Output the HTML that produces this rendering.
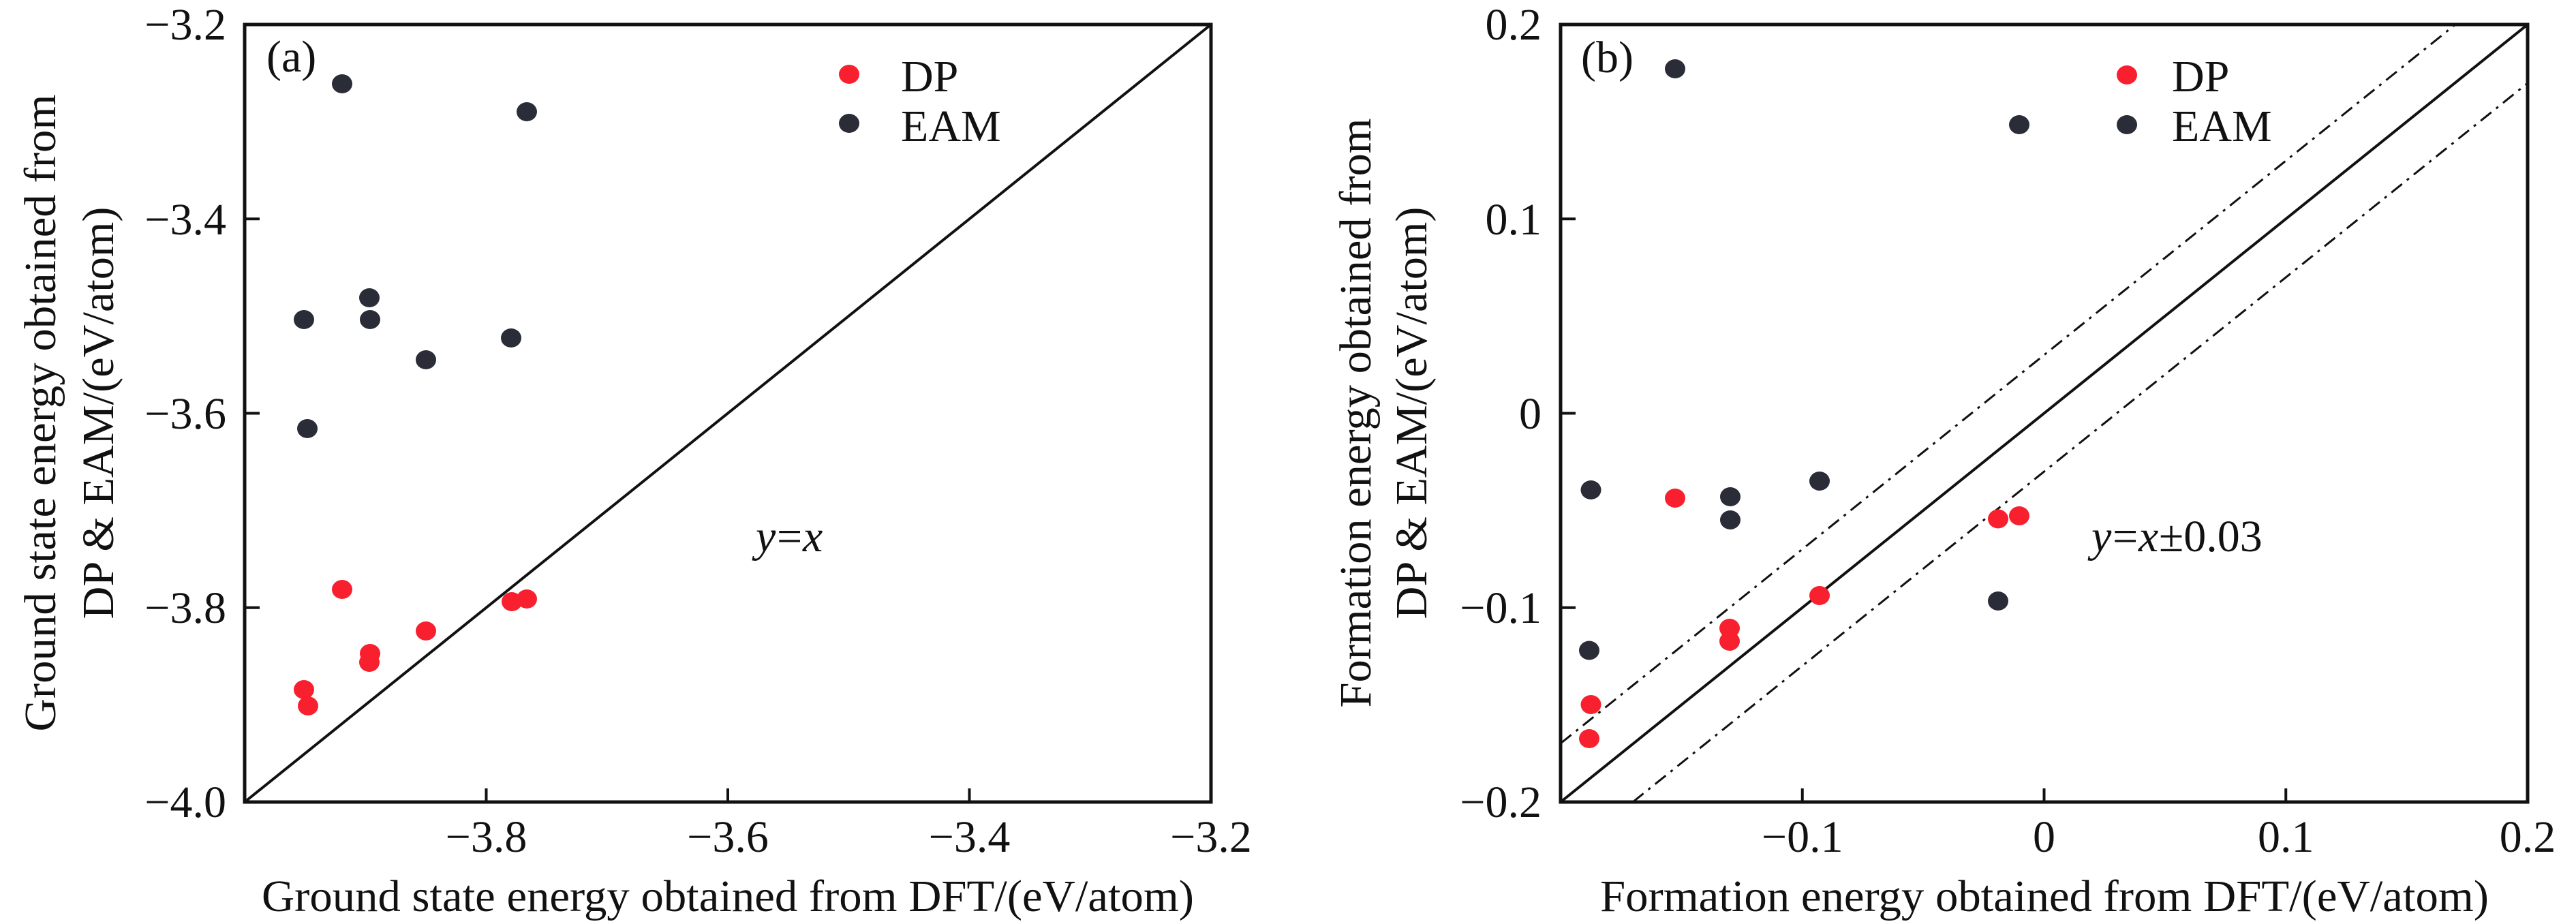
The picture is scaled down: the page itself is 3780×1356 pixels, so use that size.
<!DOCTYPE html>
<html><head><meta charset="utf-8"><style>
html,body{margin:0;padding:0;background:#fff;}
svg{display:block;}
text{font-family:"Liberation Serif",serif;fill:#111;}
ellipse{rx:15px;ry:14px;}
</style></head><body>
<svg width="3780" height="1356" viewBox="0 0 3780 1356" xmlns="http://www.w3.org/2000/svg">
<g font-size="66" font-family="Liberation Serif, serif">
<!-- Panel a -->
<line x1="359" y1="1177" x2="1777" y2="36" stroke="#111" stroke-width="4"/>
<rect x="359" y="36" width="1418" height="1141" fill="none" stroke="#111" stroke-width="5"/>
<g stroke="#111" stroke-width="4">
<line x1="713.5" y1="1177" x2="713.5" y2="1157"/>
<line x1="1068" y1="1177" x2="1068" y2="1157"/>
<line x1="1422.5" y1="1177" x2="1422.5" y2="1157"/>
<line x1="359" y1="321.25" x2="381" y2="321.25"/>
<line x1="359" y1="606.5" x2="381" y2="606.5"/>
<line x1="359" y1="891.75" x2="381" y2="891.75"/>
</g>
<g text-anchor="end">
<text x="332" y="58">−3.2</text>
<text x="332" y="344">−3.4</text>
<text x="332" y="629">−3.6</text>
<text x="332" y="914">−3.8</text>
<text x="332" y="1199">−4.0</text>
</g>
<g text-anchor="middle">
<text x="713.5" y="1250">−3.8</text>
<text x="1068" y="1250">−3.6</text>
<text x="1422.5" y="1250">−3.4</text>
<text x="1777" y="1250">−3.2</text>
<text x="1068" y="1337" textLength="1368" lengthAdjust="spacingAndGlyphs">Ground state energy obtained from DFT/(eV/atom)</text>
<text transform="translate(81,606) rotate(-90)" textLength="935" lengthAdjust="spacingAndGlyphs">Ground state energy obtained from</text>
<text transform="translate(166,606) rotate(-90)" textLength="605" lengthAdjust="spacingAndGlyphs">DP &amp; EAM/(eV/atom)</text>
</g>
<text x="391" y="105">(a)</text>
<text x="1109" y="809" font-style="italic">y</text><text x="1140" y="809">=</text><text x="1178" y="809" font-style="italic">x</text>
<ellipse cx="1246" cy="109" rx="15" ry="14" fill="#f8202f"/>
<ellipse cx="1246" cy="181" rx="15" ry="14" fill="#2a2c38"/>
<text x="1322" y="134">DP</text>
<text x="1322" y="207">EAM</text>
<g fill="#2a2c38">
<ellipse cx="502" cy="123" rx="15" ry="14"/><ellipse cx="773" cy="164" rx="15" ry="14"/>
<ellipse cx="542" cy="437" rx="15" ry="14"/><ellipse cx="543" cy="469" rx="15" ry="14"/>
<ellipse cx="446" cy="469" rx="15" ry="14"/><ellipse cx="750" cy="496" rx="15" ry="14"/>
<ellipse cx="625" cy="528" rx="15" ry="14"/><ellipse cx="451" cy="629" rx="15" ry="14"/>
</g>
<g fill="#f8202f">
<ellipse cx="502" cy="865" rx="15" ry="14"/><ellipse cx="751" cy="883" rx="15" ry="14"/>
<ellipse cx="773" cy="879" rx="15" ry="14"/><ellipse cx="625" cy="926" rx="15" ry="14"/>
<ellipse cx="543" cy="959" rx="15" ry="14"/><ellipse cx="542" cy="972" rx="15" ry="14"/>
<ellipse cx="446" cy="1012" rx="15" ry="14"/><ellipse cx="452" cy="1036" rx="15" ry="14"/>
</g>

<!-- Panel b -->
<line x1="2290" y1="1177" x2="3709" y2="36" stroke="#111" stroke-width="4"/>
<g stroke="#111" stroke-width="3" stroke-dasharray="20 9 4 9">
<line x1="2290" y1="1091" x2="3603" y2="36"/>
<line x1="2396" y1="1177" x2="3709" y2="122"/>
</g>
<rect x="2290" y="36" width="1419" height="1141" fill="none" stroke="#111" stroke-width="5"/>
<g stroke="#111" stroke-width="4">
<line x1="2644.75" y1="1177" x2="2644.75" y2="1157"/>
<line x1="2999.5" y1="1177" x2="2999.5" y2="1157"/>
<line x1="3354.25" y1="1177" x2="3354.25" y2="1157"/>
<line x1="2290" y1="321.25" x2="2312" y2="321.25"/>
<line x1="2290" y1="606.5" x2="2312" y2="606.5"/>
<line x1="2290" y1="891.75" x2="2312" y2="891.75"/>
</g>
<g text-anchor="end">
<text x="2262" y="58">0.2</text>
<text x="2262" y="344">0.1</text>
<text x="2262" y="629">0</text>
<text x="2262" y="914">−0.1</text>
<text x="2262" y="1199">−0.2</text>
</g>
<g text-anchor="middle">
<text x="2644.75" y="1250">−0.1</text>
<text x="2999.5" y="1250">0</text>
<text x="3354.25" y="1250">0.1</text>
<text x="3709" y="1250">0.2</text>
<text x="3000" y="1337" textLength="1304" lengthAdjust="spacingAndGlyphs">Formation energy obtained from DFT/(eV/atom)</text>
<text transform="translate(2011,606) rotate(-90)" textLength="865" lengthAdjust="spacingAndGlyphs">Formation energy obtained from</text>
<text transform="translate(2093,606) rotate(-90)" textLength="605" lengthAdjust="spacingAndGlyphs">DP &amp; EAM/(eV/atom)</text>
</g>
<text x="2320" y="106">(b)</text>
<text x="3069" y="809" font-style="italic">y</text><text x="3100" y="809">=</text><text x="3138" y="809" font-style="italic">x</text><text x="3168" y="809">±0.03</text>
<ellipse cx="3121" cy="110" rx="15" ry="14" fill="#f8202f"/>
<ellipse cx="3121" cy="183" rx="15" ry="14" fill="#2a2c38"/>
<text x="3187" y="134">DP</text>
<text x="3187" y="207">EAM</text>
<g fill="#2a2c38">
<ellipse cx="2458" cy="101" rx="15" ry="14"/><ellipse cx="2963" cy="183" rx="15" ry="14"/>
<ellipse cx="2334.5" cy="719" rx="15" ry="14"/><ellipse cx="2539" cy="729" rx="15" ry="14"/>
<ellipse cx="2539" cy="763" rx="15" ry="14"/><ellipse cx="2670" cy="706" rx="15" ry="14"/>
<ellipse cx="2932" cy="882" rx="15" ry="14"/><ellipse cx="2332" cy="954.5" rx="15" ry="14"/>
</g>
<g fill="#f8202f">
<ellipse cx="2458" cy="731" rx="15" ry="14"/><ellipse cx="2932" cy="761.5" rx="15" ry="14"/>
<ellipse cx="2963" cy="757" rx="15" ry="14"/><ellipse cx="2670" cy="874" rx="15" ry="14"/>
<ellipse cx="2538" cy="922" rx="15" ry="14"/><ellipse cx="2538" cy="941" rx="15" ry="14"/>
<ellipse cx="2334.5" cy="1034" rx="15" ry="14"/><ellipse cx="2332" cy="1084" rx="15" ry="14"/>
</g>
</g>
</svg>
</body></html>
